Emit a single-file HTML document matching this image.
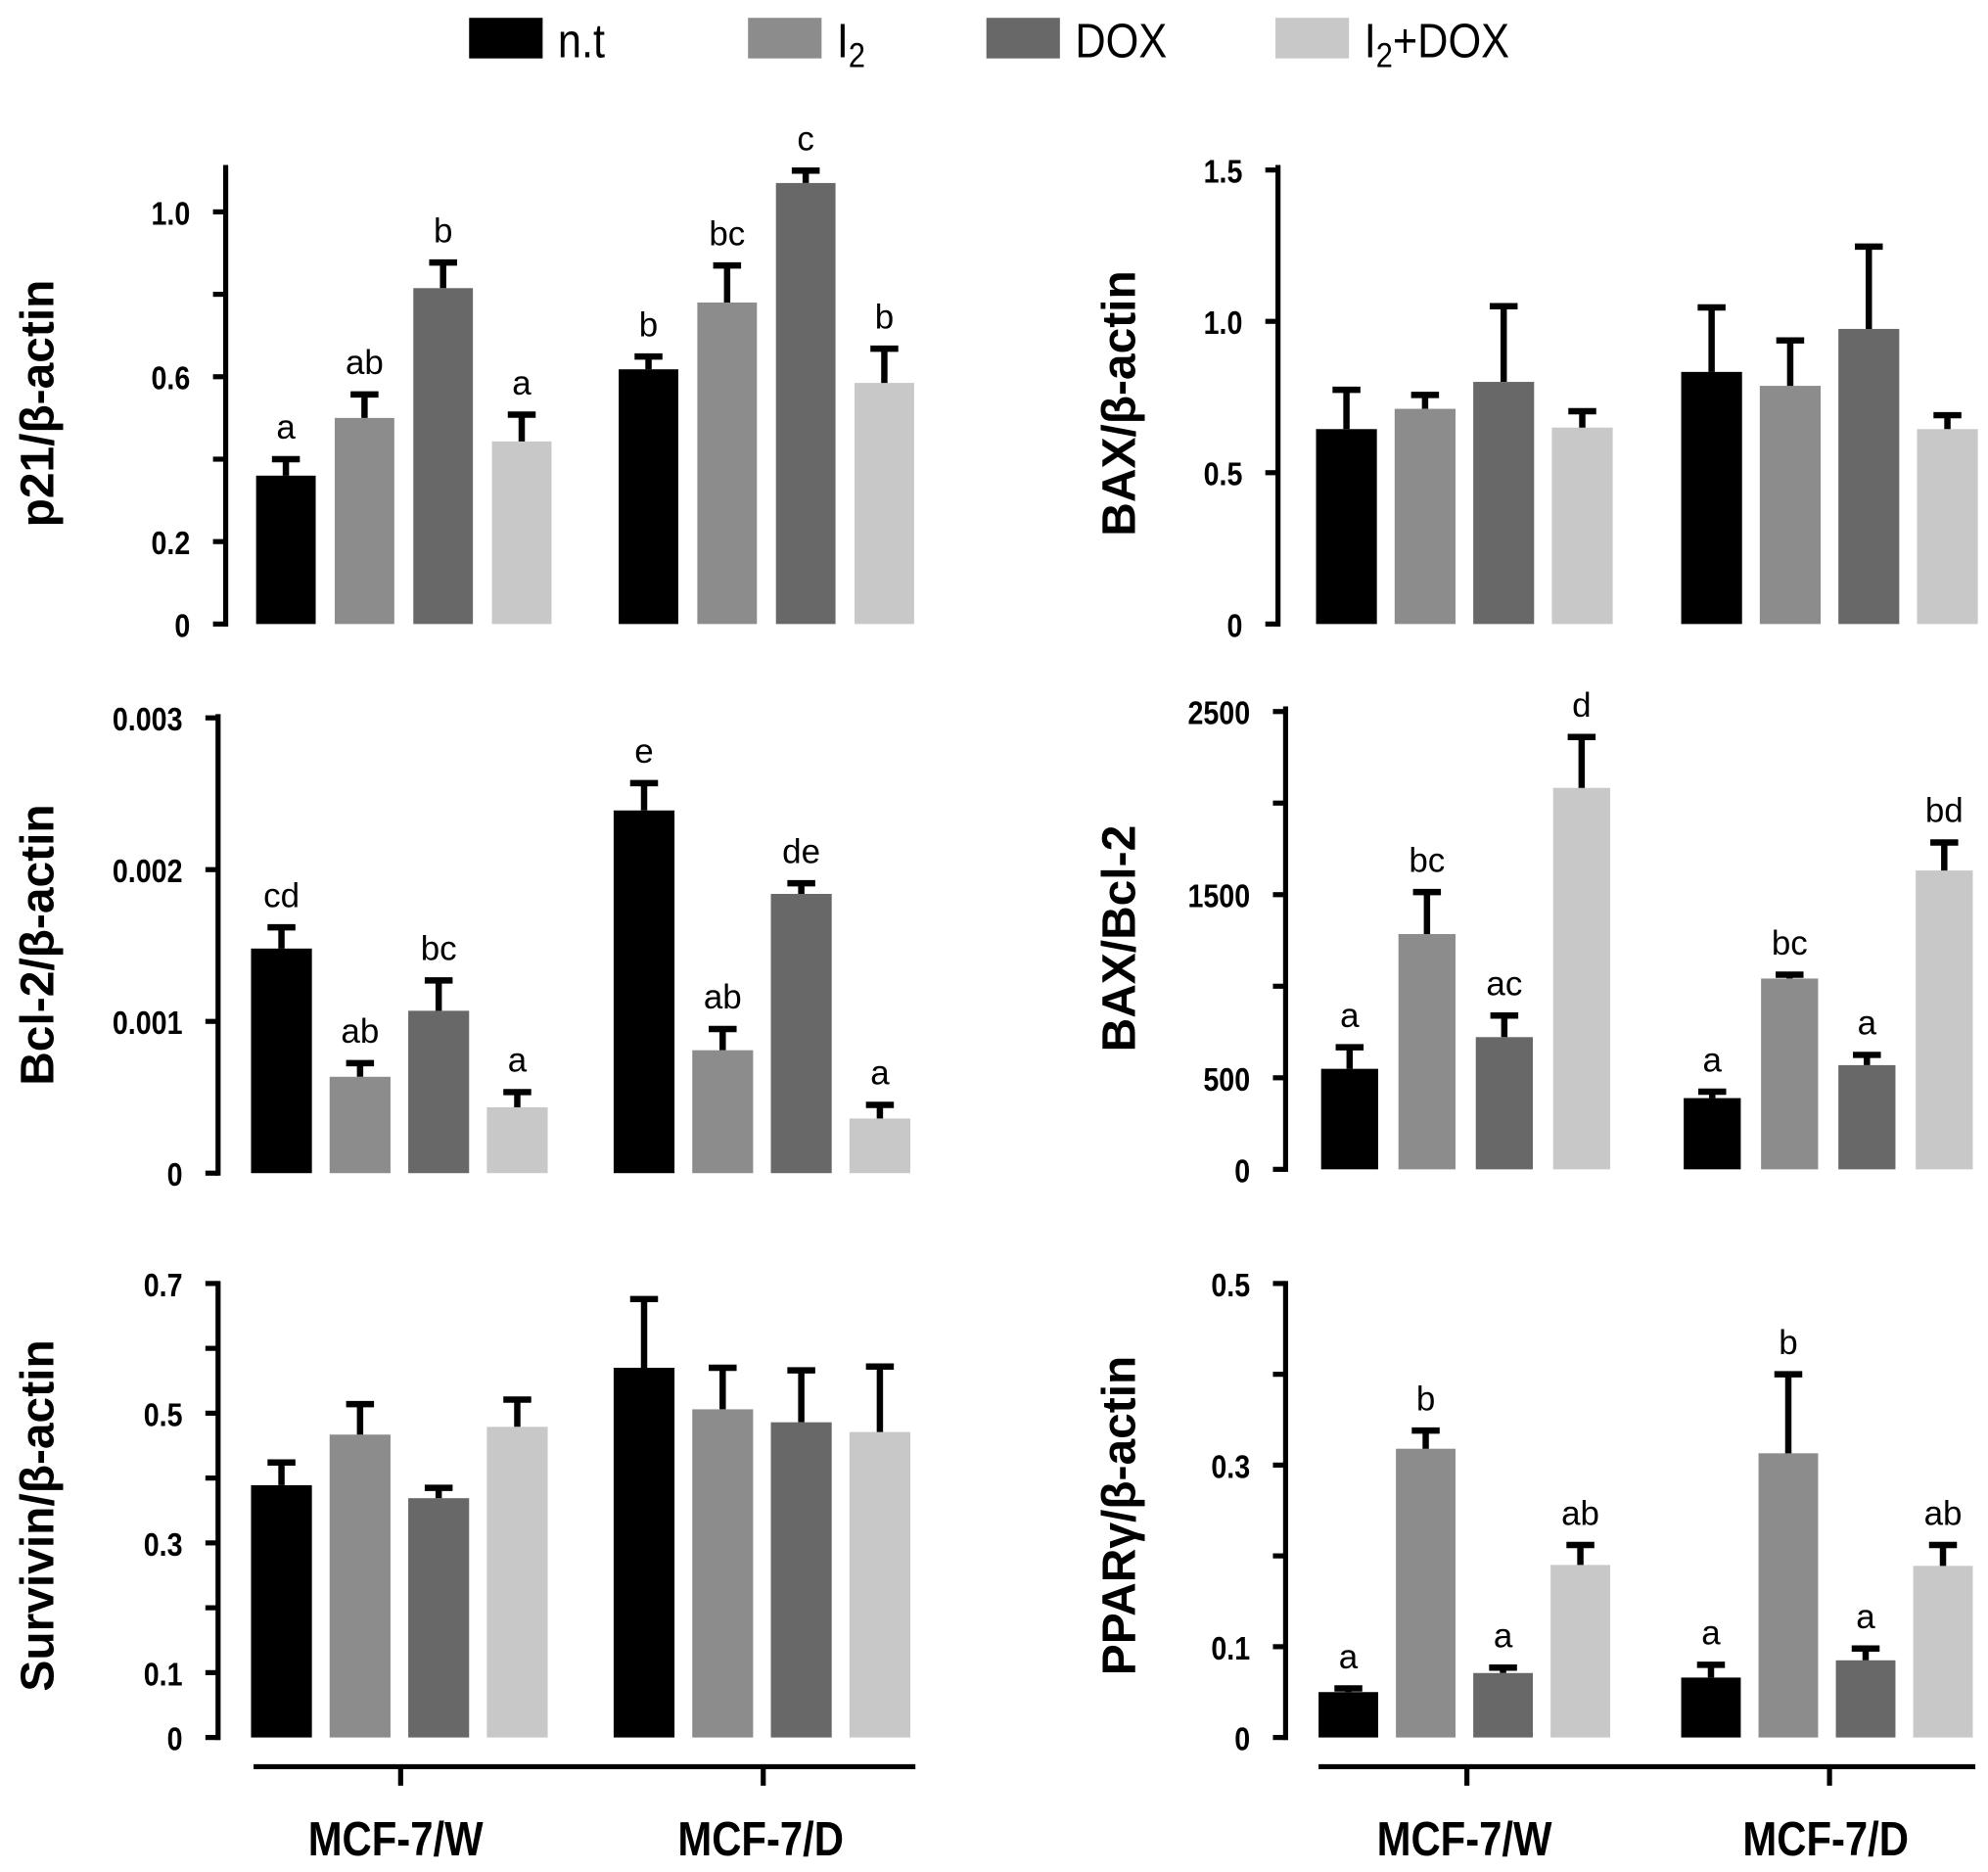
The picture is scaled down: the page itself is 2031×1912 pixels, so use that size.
<!DOCTYPE html>
<html><head><meta charset="utf-8">
<style>
html,body{margin:0;padding:0;background:#fff;}
svg{display:block;}
text{font-family:"Liberation Sans",sans-serif;}
.tick{font-family:"Liberation Sans Narrow","Liberation Sans",sans-serif;font-weight:bold;font-size:26px;}
.ytitle{font-weight:bold;font-size:37px;}
.sig{font-family:"Liberation Sans Narrow","Liberation Sans",sans-serif;font-size:27px;}
.leg{font-family:"Liberation Sans Narrow","Liberation Sans",sans-serif;font-size:38px;}
.xlab{font-family:"Liberation Sans Narrow","Liberation Sans",sans-serif;font-weight:bold;font-size:38px;}
</style></head>
<body>
<svg id="fig" width="2031" height="1912" viewBox="0 0 1568 1476" xmlns="http://www.w3.org/2000/svg">
<g>
 <g><rect x="370" y="14" width="58" height="32" fill="#000"/><text class="leg" transform="translate(440,45) scale(0.88,1)">n.t</text></g>
 <g><rect x="590" y="14" width="58" height="32" fill="#8c8c8c"/><text class="leg" transform="translate(660,45) scale(0.88,1)">I<tspan font-size="27" dy="8">2</tspan></text></g>
 <g><rect x="778" y="14" width="58" height="32" fill="#686868"/><text class="leg" transform="translate(848,45) scale(0.88,1)">DOX</text></g>
 <g><rect x="1006" y="14" width="58" height="32" fill="#c8c8c8"/><text class="leg" transform="translate(1076,45) scale(0.88,1)">I<tspan font-size="27" dy="8">2</tspan><tspan dy="-8">+DOX</tspan></text></g>
</g>
<g>
 <line x1="200" y1="1393" x2="722" y2="1393" stroke="#000" stroke-width="4"/>
 <line x1="316" y1="1393" x2="316" y2="1408" stroke="#000" stroke-width="4"/>
 <line x1="602" y1="1393" x2="602" y2="1408" stroke="#000" stroke-width="4"/>
 <text class="xlab" transform="translate(312,1463) scale(0.85,1)" text-anchor="middle">MCF-7/W</text>
 <text class="xlab" transform="translate(600,1463) scale(0.85,1)" text-anchor="middle">MCF-7/D</text>
</g>
<g>
 <line x1="1040" y1="1393" x2="1558" y2="1393" stroke="#000" stroke-width="4"/>
 <line x1="1157" y1="1393" x2="1157" y2="1408" stroke="#000" stroke-width="4"/>
 <line x1="1443" y1="1393" x2="1443" y2="1408" stroke="#000" stroke-width="4"/>
 <text class="xlab" transform="translate(1155,1463) scale(0.85,1)" text-anchor="middle">MCF-7/W</text>
 <text class="xlab" transform="translate(1440,1463) scale(0.85,1)" text-anchor="middle">MCF-7/D</text>
</g>
</svg>
<script>
// ---- data (order: W n.t, W I2, W DOX, W I2+DOX, D n.t, D I2, D DOX, D I2+DOX) ----
const groups = ["MCF-7/W", "MCF-7/D"];
const treatments = ["n.t", "I2", "DOX", "I2+DOX"];
const p21Values = [0.36, 0.50, 0.815, 0.443, 0.618, 0.78, 1.07, 0.585];
const p21Errors = [0.04, 0.057, 0.062, 0.065, 0.031, 0.09, 0.03, 0.083];
const p21Letters = ["a", "ab", "b", "a", "b", "bc", "c", "b"];
const p21Ticks = [0, 0.2, 0.4, 0.6, 0.8, 1.0];
const p21TickLabels = ["0", "0.2", "", "0.6", "", "1.0"];
const baxValues = [0.644, 0.711, 0.80, 0.649, 0.833, 0.787, 0.975, 0.644];
const baxErrors = [0.13, 0.046, 0.25, 0.054, 0.213, 0.15, 0.272, 0.046];
const baxLetters = ["", "", "", "", "", "", "", ""];
const baxTicks = [0, 0.5, 1.0, 1.5];
const baxTickLabels = ["0", "0.5", "1.0", "1.5"];
const bcl2Values = [0.00148, 0.000635, 0.00107, 0.000434, 0.00239, 0.00081, 0.00184, 0.00036];
const bcl2Errors = [0.00014, 0.00009, 0.0002, 0.0001, 0.00018, 0.00014, 0.00007, 0.00009];
const bcl2Letters = ["cd", "ab", "bc", "a", "e", "ab", "de", "a"];
const bcl2Ticks = [0, 0.001, 0.002, 0.003];
const bcl2TickLabels = ["0", "0.001", "0.002", "0.003"];
const ratioValues = [549, 1285, 722, 2083, 389, 1042, 569, 1632];
const ratioErrors = [118, 229, 118, 278, 35, 21, 56, 153];
const ratioLetters = ["a", "bc", "ac", "d", "a", "bc", "a", "bd"];
const ratioTicks = [0, 500, 1000, 1500, 2000, 2500];
const ratioTickLabels = ["0", "500", "", "1500", "", "2500"];
const survValues = [0.389, 0.467, 0.369, 0.479, 0.570, 0.506, 0.486, 0.471];
const survErrors = [0.035, 0.047, 0.016, 0.042, 0.106, 0.064, 0.08, 0.101];
const survLetters = ["", "", "", "", "", "", "", ""];
const survTicks = [0, 0.1, 0.2, 0.3, 0.4, 0.5, 0.6, 0.7];
const survTickLabels = ["0", "0.1", "", "0.3", "", "0.5", "", "0.7"];
const pparValues = [0.05, 0.318, 0.071, 0.19, 0.066, 0.313, 0.085, 0.189];
const pparErrors = [0.004, 0.02, 0.006, 0.022, 0.014, 0.087, 0.013, 0.023];
const pparLetters = ["a", "b", "a", "ab", "a", "b", "a", "ab"];
const pparTicks = [0, 0.1, 0.2, 0.3, 0.4, 0.5];
const pparTickLabels = ["0", "0.1", "", "0.3", "", "0.5"];

const colors = ["#000000", "#8c8c8c", "#686868", "#c8c8c8"];
const NS = "http://www.w3.org/2000/svg";
const svg = document.getElementById("fig");
function mk(tag, attrs, parent) {
  const e = document.createElementNS(NS, tag);
  for (const k in attrs) e.setAttribute(k, attrs[k]);
  parent.appendChild(e);
  return e;
}
function drawPanel(p) {
  const g = mk("g", {}, svg);
  
  
  const y = v => p.y0 - (v / p.ymax) * (p.y0 - p.ytopVal);
  mk("line", {x1: p.ax, y1: p.axTop, x2: p.ax, y2: p.y0 + 2, stroke: "#000", "stroke-width": 4}, g);
  p.ticks.forEach((t, i) => {
    mk("line", {x1: p.ax - 10, y1: y(t), x2: p.ax, y2: y(t), stroke: "#000", "stroke-width": 4}, g);
    if (p.tickLabels[i]) {
      const tx = mk("text", {class: "tick", transform: `translate(${p.ax - 28},${y(t) + 10}) scale(0.85,1)`, "text-anchor": "end"}, g);
      tx.textContent = p.tickLabels[i];
      
      
    }
  });
  const tt = mk("text", {class: "ytitle", transform: `translate(${p.titleX},${p.titleY}) rotate(-90)`, "text-anchor": "middle"}, g);
  tt.textContent = p.title;
  
  
  p.values.forEach((v, i) => {
    const gi = Math.floor(i / 4), ti = i % 4;
    const x = p.gx[gi] + ti * p.step;
    const cx = x + p.bw / 2;
    const bar = mk("rect", {x: x, y: y(v), width: p.bw, height: p.y0 - y(v), fill: colors[ti]}, g);
    
    
    const top = y(v + p.errors[i]);
    const eb = mk("path", {d: `M${cx},${y(v)}V${top}M${cx - 11},${top}H${cx + 11}`, stroke: "#000", "stroke-width": 5, fill: "none"}, g);
    
    
    if (p.letters[i]) {
      const lt = mk("text", {class: "sig", x: cx, y: top - 16, "text-anchor": "middle"}, g);
      lt.textContent = p.letters[i];
      
      
    }
  });
}
drawPanel({name: "p21-panel", title: "p21/β-actin", values: p21Values, errors: p21Errors, letters: p21Letters, ticks: p21Ticks, tickLabels: p21TickLabels,
  ax: 178, y0: 492, ymax: 1.0, ytopVal: 167, axTop: 130, gx: [202, 488], step: 62, bw: 47, titleX: 42, titleY: 318});
drawPanel({name: "bax-panel", title: "BAX/β-actin", values: baxValues, errors: baxErrors, letters: baxLetters, ticks: baxTicks, tickLabels: baxTickLabels,
  ax: 1008, y0: 492, ymax: 1.5, ytopVal: 134, axTop: 130, gx: [1038, 1326], step: 62, bw: 48, titleX: 895, titleY: 318});
drawPanel({name: "bcl2-panel", title: "Bcl-2/β-actin", values: bcl2Values, errors: bcl2Errors, letters: bcl2Letters, ticks: bcl2Ticks, tickLabels: bcl2TickLabels,
  ax: 172, y0: 925, ymax: 0.003, ytopVal: 566, axTop: 563, gx: [198, 484], step: 62, bw: 48, titleX: 42, titleY: 745});
drawPanel({name: "bax-bcl2-panel", title: "BAX/Bcl-2", values: ratioValues, errors: ratioErrors, letters: ratioLetters, ticks: ratioTicks, tickLabels: ratioTickLabels,
  ax: 1014, y0: 922, ymax: 2500, ytopVal: 561, axTop: 557, gx: [1042, 1328], step: 61, bw: 45, titleX: 895, titleY: 740});
drawPanel({name: "survivin-panel", title: "Survivin/β-actin", values: survValues, errors: survErrors, letters: survLetters, ticks: survTicks, tickLabels: survTickLabels,
  ax: 172, y0: 1370, ymax: 0.7, ytopVal: 1012, axTop: 1010, gx: [198, 484], step: 62, bw: 48, titleX: 42, titleY: 1195});
drawPanel({name: "ppar-panel", title: "PPARγ/β-actin", values: pparValues, errors: pparErrors, letters: pparLetters, ticks: pparTicks, tickLabels: pparTickLabels,
  ax: 1014, y0: 1370, ymax: 0.5, ytopVal: 1012, axTop: 1010, gx: [1040, 1326], step: 61, bw: 47, titleX: 895, titleY: 1195});
</script>
</body></html>
